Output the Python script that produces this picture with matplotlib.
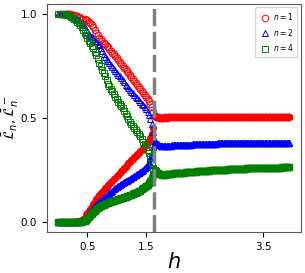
import matplotlib
matplotlib.use('Agg')
import matplotlib.pyplot as plt
import numpy as np

# field values h (step 0.025)
h = np.round(np.arange(0, 3.96, 0.025), 3)
h_c = 1.644

# values before the transition (h = 0 ... 1.625)
plus_1_pre = [1.0, 1.0, 1.0, 1.0, 1.0, 1.0, 1.0, 0.999, 0.998, 0.997,
              0.995, 0.993, 0.99, 0.988, 0.985, 0.982, 0.978, 0.977, 0.975, 0.973,
              0.97, 0.963, 0.955, 0.945, 0.935, 0.922, 0.91, 0.897, 0.885, 0.877,
              0.87, 0.862, 0.855, 0.847, 0.84, 0.83, 0.82, 0.812, 0.805, 0.797,
              0.79, 0.78, 0.77, 0.76, 0.75, 0.742, 0.735, 0.725, 0.715, 0.705,
              0.695, 0.685, 0.675, 0.667, 0.66, 0.65, 0.64, 0.63, 0.62, 0.61,
              0.60, 0.59, 0.58, 0.567, 0.55, 0.53]
plus_2_pre = [1.0, 1.0, 1.0, 1.0, 1.0, 1.0, 0.998, 0.997, 0.995, 0.993,
              0.99, 0.985, 0.98, 0.975, 0.97, 0.963, 0.955, 0.945, 0.935, 0.925,
              0.915, 0.905, 0.895, 0.887, 0.88, 0.872, 0.865, 0.857, 0.85, 0.835,
              0.82, 0.807, 0.795, 0.785, 0.775, 0.765, 0.755, 0.745, 0.735, 0.725,
              0.715, 0.707, 0.70, 0.69, 0.68, 0.67, 0.66, 0.652, 0.645, 0.635,
              0.625, 0.617, 0.61, 0.602, 0.595, 0.585, 0.575, 0.567, 0.56, 0.55,
              0.54, 0.528, 0.515, 0.495, 0.47, 0.43]
plus_4_pre = [1.0, 1.0, 1.0, 1.0, 0.998, 0.997, 0.995, 0.993, 0.99, 0.985,
              0.98, 0.975, 0.97, 0.963, 0.955, 0.945, 0.935, 0.923, 0.91, 0.897,
              0.885, 0.872, 0.86, 0.847, 0.835, 0.818, 0.80, 0.782, 0.765, 0.747,
              0.73, 0.715, 0.70, 0.682, 0.665, 0.652, 0.64, 0.627, 0.615, 0.602,
              0.59, 0.577, 0.565, 0.555, 0.545, 0.532, 0.52, 0.507, 0.495, 0.482,
              0.47, 0.46, 0.45, 0.44, 0.43, 0.42, 0.41, 0.397, 0.385, 0.372,
              0.36, 0.345, 0.33, 0.31, 0.28, 0.26]
minus_1_pre = [0.0, 0.0, 0.0, 0.0, 0.0, 0.0, 0.0, 0.0, 0.0, 0.0,
               0.0, 0.0, 0.0, 0.001, 0.002, 0.004, 0.008, 0.013, 0.02, 0.03,
               0.04, 0.05, 0.06, 0.072, 0.085, 0.097, 0.11, 0.12, 0.13, 0.137,
               0.145, 0.152, 0.16, 0.167, 0.175, 0.182, 0.19, 0.197, 0.205, 0.212,
               0.22, 0.227, 0.235, 0.242, 0.25, 0.257, 0.265, 0.272, 0.28, 0.287,
               0.295, 0.302, 0.31, 0.317, 0.325, 0.332, 0.34, 0.347, 0.355, 0.362,
               0.37, 0.38, 0.39, 0.403, 0.42, 0.45]
minus_2_pre = [0.0, 0.0, 0.0, 0.0, 0.0, 0.0, 0.0, 0.0, 0.0, 0.0,
               0.0, 0.0, 0.0, 0.0, 0.0, 0.001, 0.003, 0.006, 0.01, 0.017,
               0.025, 0.035, 0.045, 0.055, 0.065, 0.073, 0.08, 0.088, 0.095, 0.10,
               0.105, 0.112, 0.12, 0.125, 0.13, 0.137, 0.145, 0.15, 0.155, 0.16,
               0.165, 0.17, 0.175, 0.18, 0.185, 0.19, 0.195, 0.197, 0.20, 0.205,
               0.21, 0.215, 0.22, 0.225, 0.23, 0.235, 0.24, 0.245, 0.25, 0.257,
               0.265, 0.275, 0.285, 0.305, 0.33, 0.36]
minus_4_pre = [0.0, 0.0, 0.0, 0.0, 0.0, 0.0, 0.0, 0.0, 0.0, 0.0,
               0.0, 0.0, 0.0, 0.0, 0.0, 0.0, 0.0, 0.002, 0.005, 0.01,
               0.015, 0.022, 0.03, 0.037, 0.045, 0.052, 0.06, 0.065, 0.07, 0.074,
               0.078, 0.082, 0.085, 0.088, 0.09, 0.093, 0.095, 0.098, 0.10, 0.102,
               0.105, 0.107, 0.11, 0.112, 0.115, 0.117, 0.12, 0.122, 0.125, 0.127,
               0.13, 0.133, 0.137, 0.14, 0.143, 0.147, 0.15, 0.155, 0.16, 0.165,
               0.17, 0.177, 0.185, 0.195, 0.21, 0.23]

# values after the transition (h = 1.65 ... 3.95), both quantities coincide
post_1 = [0.51, 0.506, 0.503, 0.501, 0.50, 0.50, 0.501, 0.502, 0.501, 0.502,
          0.502, 0.503, 0.502, 0.503, 0.502, 0.503, 0.503, 0.502, 0.503, 0.503,
          0.503, 0.503, 0.503, 0.503, 0.503, 0.503, 0.503, 0.503, 0.503, 0.503,
          0.503, 0.503, 0.503, 0.503, 0.503, 0.503, 0.503, 0.503, 0.503, 0.503,
          0.503, 0.503, 0.503, 0.503, 0.503, 0.503, 0.503, 0.503, 0.503, 0.503,
          0.503, 0.503, 0.503, 0.503, 0.503, 0.503, 0.503, 0.503, 0.503, 0.503,
          0.503, 0.503, 0.503, 0.503, 0.503, 0.503, 0.503, 0.503, 0.503, 0.503,
          0.503, 0.503, 0.503, 0.503, 0.503, 0.503, 0.503, 0.503, 0.503, 0.503,
          0.503, 0.503, 0.503, 0.503, 0.503, 0.503, 0.503, 0.503, 0.503, 0.503,
          0.503, 0.503, 0.503]
post_2 = [0.39, 0.38, 0.373, 0.368, 0.366, 0.365, 0.365, 0.365, 0.365, 0.366,
          0.366, 0.366, 0.367, 0.367, 0.368, 0.368, 0.368, 0.369, 0.369, 0.369,
          0.37, 0.37, 0.37, 0.371, 0.371, 0.371, 0.372, 0.372, 0.372, 0.373,
          0.373, 0.373, 0.374, 0.374, 0.374, 0.375, 0.375, 0.375, 0.375, 0.376,
          0.376, 0.376, 0.376, 0.377, 0.377, 0.377, 0.377, 0.377, 0.378, 0.378,
          0.378, 0.378, 0.378, 0.378, 0.379, 0.379, 0.379, 0.379, 0.379, 0.379,
          0.379, 0.38, 0.38, 0.38, 0.38, 0.38, 0.38, 0.38, 0.38, 0.38,
          0.38, 0.38, 0.38, 0.38, 0.381, 0.381, 0.381, 0.381, 0.381, 0.381,
          0.381, 0.381, 0.381, 0.381, 0.381, 0.381, 0.381, 0.381, 0.381, 0.381,
          0.381, 0.381, 0.381]
post_4 = [0.25, 0.242, 0.235, 0.231, 0.228, 0.227, 0.227, 0.227, 0.228, 0.229,
          0.23, 0.23, 0.231, 0.232, 0.232, 0.233, 0.234, 0.234, 0.235, 0.236,
          0.236, 0.237, 0.238, 0.238, 0.239, 0.24, 0.24, 0.241, 0.241, 0.242,
          0.242, 0.243, 0.243, 0.244, 0.245, 0.245, 0.246, 0.246, 0.247, 0.247,
          0.248, 0.248, 0.249, 0.249, 0.25, 0.25, 0.25, 0.251, 0.251, 0.251,
          0.252, 0.252, 0.252, 0.253, 0.253, 0.253, 0.254, 0.254, 0.254, 0.255,
          0.255, 0.255, 0.255, 0.256, 0.256, 0.256, 0.256, 0.257, 0.257, 0.257,
          0.257, 0.258, 0.258, 0.258, 0.258, 0.258, 0.259, 0.259, 0.259, 0.259,
          0.259, 0.26, 0.26, 0.26, 0.26, 0.26, 0.26, 0.261, 0.261, 0.261,
          0.261, 0.261, 0.261]

plus = [plus_1_pre + post_1, plus_2_pre + post_2, plus_4_pre + post_4]
minus = [minus_1_pre + post_1, minus_2_pre + post_2, minus_4_pre + post_4]
ns = [1, 2, 4]
colors = ['r', 'b', 'g']
markers = ['o', '^', 's']

fig, ax = plt.subplots(figsize=(3.05, 2.73), dpi=100)
fig.subplots_adjust(left=0.153, right=0.987, bottom=0.15, top=0.987)

for n, c, m, yp, ym in zip(ns, colors, markers, plus, minus):
    ax.plot(h, ym, linestyle='none', marker=m, color=c, markersize=4.2)
    ax.plot(h, yp, linestyle='none', marker=m, markerfacecolor='none',
            markeredgecolor=c, markersize=4.8, markeredgewidth=0.7,
            label=f'$n={n}$')

ax.axvline(h_c, color='gray', linewidth=2.5, dashes=(5, 1.6))

ax.set_xticks([0.5, 1.5, 3.5])
ax.set_yticks([0.0, 0.5, 1.0])
ax.tick_params(labelsize=7.5)
for s in ax.spines.values():
    s.set_color('0.35')

ax.set_xlabel('$h$', fontsize=15, labelpad=0)
ax.set_ylabel(r'$\bar{\mathcal{L}}_n,\bar{\mathcal{L}}_n^-$', fontsize=10)
ax.yaxis.set_label_coords(-0.1, 0.5)
ax.legend(loc='upper right', fontsize=5.5, handletextpad=0.3,
          handlelength=1.5, borderpad=0.5, labelspacing=0.6)

fig.savefig('out.png', dpi=100)
